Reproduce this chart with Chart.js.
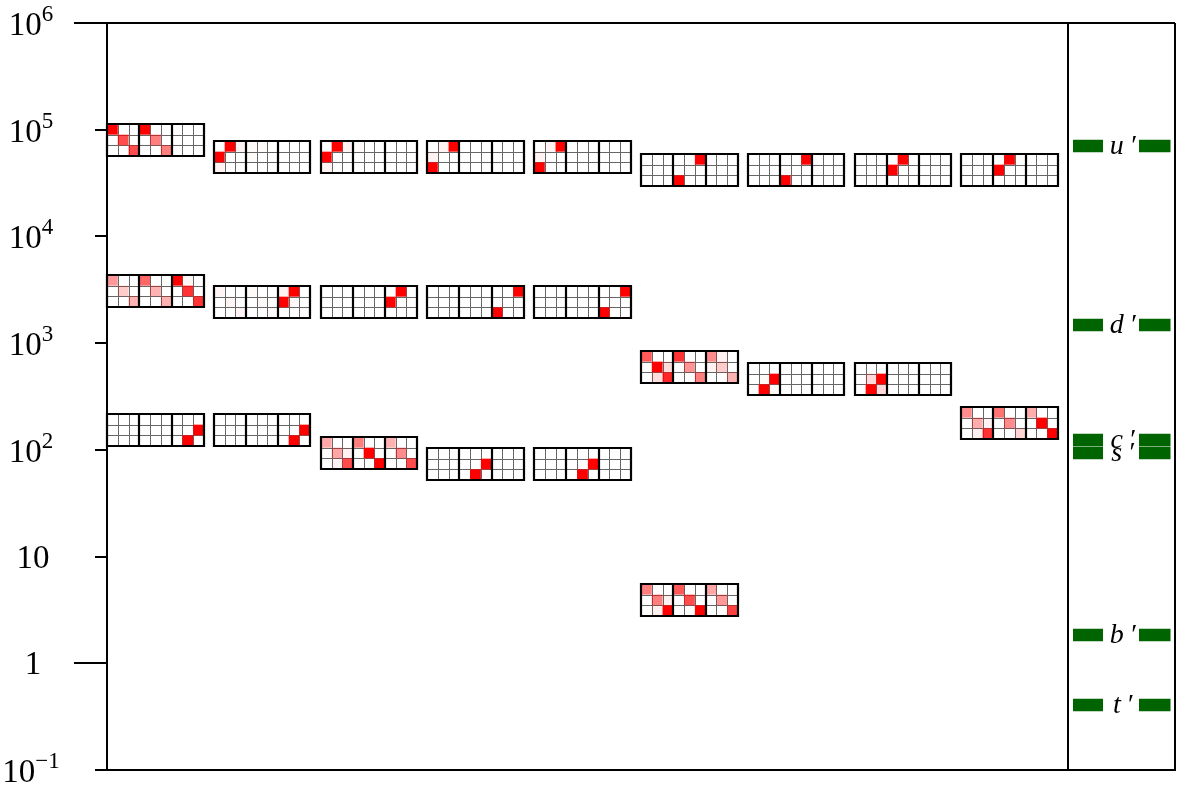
<!DOCTYPE html>
<html>
<head>
<meta charset="utf-8">
<title>Fermion masses</title>
<script src="https://cdn.jsdelivr.net/npm/chart.js@4/dist/chart.umd.js"></script>
<style>
  html, body { margin: 0; padding: 0; background: #fff; }
  canvas { display: block; }
</style>
</head>
<body>
<canvas id="chart" width="1200" height="794"></canvas>
<script>
// y axis decades and how their labels are written
const yTicks = [0.1, 1, 10, 100, 1000, 10000, 100000, 1000000]
const tickBases = ['10', '1', '10', '10', '10', '10', '10', '10']
const tickExponents = ['\u22121', '', '', '2', '3', '4', '5', '6']
const longTicks = [1, 1000000]

// column index and height of each block of three matrices
const blockColumns = [0, 0, 0, 1, 1, 1, 2, 2, 2, 3, 3, 3, 4, 4, 4, 5, 5, 5, 6, 6, 7, 7, 8, 8]
const blockValues = [
  80000, 3100, 153,
  55500, 2430, 153,
  55500, 2430, 93.5,
  55500, 2430, 73.8,
  55500, 2430, 73.8,
  42000, 598, 3.92,
  42000, 461,
  42000, 461,
  42000, 179
]

// shading of the 27 cells of each block, 0 to 10, row by row for each matrix
const blockShades = [
  [10,0,0,0,7,0,0,0,7,  10,0,0,0,5,0,0,0,5,  0,0,0,0,0,0,0,0,0],
  [4,0,0,0,2,0,0,0,3,  6,0,0,0,3,0,0,0,3,  10,0.4,0,0,8,0,0,0,8],
  [0,0,0,0,0,0,0,0,0,  0,0,0,0,0,0,0,0,0,  0,0,0,0,0,10,0,10,0],

  [0,10,0.5,10,0,0,0.5,0,0,  0.2,0.2,0,0.2,0,0,0,0,0,  0,0,0,0,0,0,0,0,0],
  [0.4,0,0,0,0.4,0,0,0,0.4,  0.2,0,0,0,0.2,0,0,0,0.2,  0.5,10,0,10,0.2,0,0,0,0.2],
  [0,0,0,0,0,0,0,0,0,  0,0,0,0,0,0,0,0,0,  0,0,0,0,0,10,0,10,0],

  [0,10,0.5,10,0,0,0.5,0,0,  0.2,0,0,0,0,0,0,0,0,  0,0,0,0,0,0,0,0,0],
  [0,0,0,0,0,0,0,0,0,  0,0,0,0,0,0,0,0,0,  0,10,0,10,0,0,0,0,0],
  [3.5,0,0,0,3.5,0.5,0,0.5,7,  5,0,0,0,10,0,0,0,10,  3,0,0,0,4.5,0,0,0,7],

  [0,0.5,10,0.5,0,0,10,0,0,  0,0,0,0,0,0,0,0,0,  0,0,0,0,0,0,0,0,0],
  [0,0,0,0,0,0,0,0,0,  0,0,0,0,0,0,0,0,0,  0,0,10,0,0,0,10,0,0],
  [0,0,0,0,0,0,0,0,0,  0,0,0,0,0,10,0,10,0,  0,0,0,0,0,0,0,0,0],

  [0,0.5,10,0.5,0,0,10,0,0,  0,0,0,0,0,0,0,0,0,  0,0,0,0,0,0,0,0,0],
  [0,0,0,0,0,0,0,0,0,  0,0,0,0,0,0,0,0,0,  0,0,10,0,0,0,10,0,0],
  [0,0,0,0,0,0,0,0,0,  0,0,0,0,0,10,0,10,0,  0,0,0,0,0,0,0,0,0],

  [0,0,0,0,0,0,0,0,0,  0,0,10,0,0,0,10,0,0,  0,0,0,0,0,0,0,0,0],
  [6.5,0,0,0,10,1.3,0,1.3,8.5,  8,0,0,0,4.2,0,0,0,5,  4.5,0.5,0,0.5,2,0,0,0,3],
  [5,0,0,0,5,0.6,0,0.6,10,  6.5,0,0,0,7,0,0,0,10,  3.5,0,0,0,4,0,0,0,7.5],

  [0,0,0,0,0,0,0,0,0,  0,0,10,0,0,0,10,0,0,  0,0,0,0,0,0,0,0,0],
  [0,0,0,0,0.2,10,0,10,0.2,  0,0,0,0,0,0,0,0,0,  0,0,0,0,0,0,0,0,0],

  [0,0,0,0,0,0,0,0,0,  0,10,0,10,0,0,0,0,0,  0,0,0,0,0,0,0,0,0],
  [0,0,0,0,1.5,10,0,10,1.5,  0,0,0,0,0,0,0,0,0,  0,0,0,0,0,0,0,0,0],

  [0,0,0,0,0,0,0,0,0,  0,10,0,10,0,0,0,0,0,  0,0,0,0,0,0,0,0,0],
  [4.5,0,0,0,3.2,0.5,0,0.6,8,  5.5,0,0,0,4.5,0,0,0,1.7,  3.2,0,0,0,10,0,0,0,10]
]

// the measured masses in the right hand panel
const massLabels = ['u', 'd', 'c', 's', 'b', 't']
const massValues = [70400, 1480, 124, 93.5, 1.84, 0.406]

const BLOCK_WIDTH = 0.904     // in columns
const BLOCK_HALF_DECADES = 0.15
const SERIF = '"Liberation Serif", serif'

const massSegments = []
massValues.forEach(v => {
  massSegments.push({ x: 9.045, y: v }, { x: 9.326, y: v }, { x: 9.326, y: NaN })
  massSegments.push({ x: 9.663, y: v }, { x: 9.958, y: v }, { x: 9.958, y: NaN })
})

// --- blocks of matrices, placed with the chart's scales ---
const blocksPlugin = {
  id: 'blocks',
  afterDatasetsDraw(chart) {
    const { ctx, scales: { x, y } } = chart
    ctx.save()
    blockColumns.forEach((col, i) => {
      const left = Math.round(x.getPixelForValue(col))
      const right = Math.round(x.getPixelForValue(col + BLOCK_WIDTH))
      const factor = Math.pow(10, BLOCK_HALF_DECADES)
      const top = Math.round(y.getPixelForValue(blockValues[i] * factor))
      const bottom = Math.round(y.getPixelForValue(blockValues[i] / factor))
      const cw = (right - left) / 9
      const ch = (bottom - top) / 3

      // grid first, the red cells cover it
      ctx.strokeStyle = '#666'
      ctx.lineWidth = 1
      ctx.beginPath()
      for (let n = 1; n < 9; n++) {
        if (n % 3 === 0) continue
        const px = Math.round(left + n * cw) + 0.5
        ctx.moveTo(px, top)
        ctx.lineTo(px, bottom)
      }
      for (let n = 1; n < 3; n++) {
        const py = Math.round(top + n * ch) + 0.5
        ctx.moveTo(left, py)
        ctx.lineTo(right, py)
      }
      ctx.stroke()

      blockShades[i].forEach((shade, k) => {
        if (!shade) return
        const m = Math.floor(k / 9)
        const r = Math.floor((k % 9) / 3)
        const c = k % 3
        ctx.fillStyle = `rgba(255,0,0,${shade / 10})`
        ctx.fillRect(left + (m * 3 + c) * cw, top + r * ch, cw, ch)
      })

      ctx.strokeStyle = '#000'
      ctx.lineWidth = 2.2
      ctx.beginPath()
      ctx.rect(left, top, right - left, bottom - top)
      for (let n = 1; n < 3; n++) {
        const px = Math.round(left + n * 3 * cw)
        ctx.moveTo(px, top)
        ctx.lineTo(px, bottom)
      }
      ctx.stroke()
    })
    ctx.restore()
  }
}

// --- tick labels with raised exponents, the two long ticks, mass names ---
const labelsPlugin = {
  id: 'labels',
  afterDraw(chart) {
    const { ctx, scales: { x, y } } = chart
    ctx.save()
    ctx.fillStyle = '#000'
    ctx.textBaseline = 'alphabetic'
    ctx.textAlign = 'left'

    yTicks.forEach((v, i) => {
      const py = y.getPixelForValue(v)
      const base = tickBases[i]
      const exp = tickExponents[i]
      ctx.font = `33px ${SERIF}`
      const bw = ctx.measureText(base).width
      ctx.font = `23px ${SERIF}`
      const ew = exp ? ctx.measureText(exp).width : 0
      const start = (exp ? 31 : 33) - (bw + ew) / 2
      ctx.font = `33px ${SERIF}`
      ctx.fillText(base, start, py + (exp ? 12 : 11))
      if (exp) {
        ctx.font = `23px ${SERIF}`
        ctx.fillText(exp, start + bw, py - 2)
      }
    })

    ctx.strokeStyle = '#000'
    ctx.lineWidth = 2
    longTicks.forEach(v => {
      const py = Math.round(y.getPixelForValue(v))
      ctx.beginPath()
      ctx.moveTo(74, py)
      ctx.lineTo(x.left, py)
      ctx.stroke()
    })

    ctx.font = `italic 28px ${SERIF}`
    ctx.textAlign = 'center'
    massLabels.forEach((name, i) => {
      const py = y.getPixelForValue(massValues[i])
      ctx.fillText(name + '\u2009\u2032', x.getPixelForValue(9.51), py + 8)
    })
    ctx.restore()
  }
}

new Chart(document.getElementById('chart'), {
  type: 'scatter',
  data: {
    datasets: [
      {
        label: 'blocks',
        data: blockColumns.map((c, i) => ({ x: c + BLOCK_WIDTH / 2, y: blockValues[i] })),
        pointRadius: 0
      },
      {
        label: 'masses',
        data: massSegments,
        showLine: true,
        spanGaps: false,
        borderColor: '#006400',
        borderWidth: 12.5,
        borderCapStyle: 'butt',
        pointRadius: 0
      }
    ]
  },
  options: {
    responsive: false,
    animation: false,
    layout: { padding: { top: 23, right: 25, bottom: 24, left: 0 } },
    plugins: { legend: { display: false }, tooltip: { enabled: false } },
    scales: {
      x: {
        type: 'linear',
        min: 0,
        max: 10,
        afterBuildTicks: s => { s.ticks = [{ value: 0 }, { value: 9 }, { value: 10 }] },
        afterFit: s => { s.height = 0 },
        ticks: { display: false },
        grid: { color: '#000', lineWidth: 2, drawTicks: false },
        border: { color: '#000', width: 2 }
      },
      y: {
        type: 'logarithmic',
        min: 0.1,
        max: 1000000,
        afterBuildTicks: s => { s.ticks = yTicks.map(v => ({ value: v, major: true })) },
        afterFit: s => { s.width = 107 },
        ticks: { display: false },
        grid: {
          color: c => (c.tick && c.tick.value === 1000000 ? '#000' : 'rgba(0,0,0,0)'),
          tickColor: '#000',
          lineWidth: 2,
          tickWidth: 2,
          tickLength: 12
        },
        border: { color: '#000', width: 2 }
      }
    }
  },
  plugins: [blocksPlugin, labelsPlugin]
})
</script>
</body>
</html>
